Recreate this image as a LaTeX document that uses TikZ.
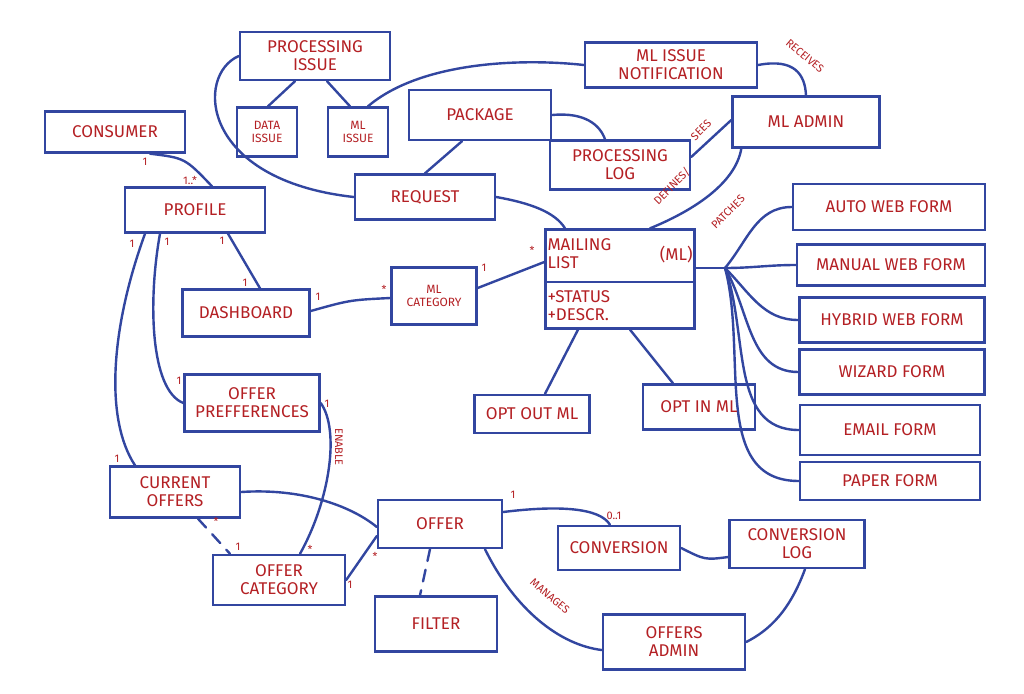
\documentclass[tikz,border=0pt]{standalone}
\usepackage{fontspec}
\setmainfont{Fira Sans}
\usetikzlibrary{shapes.multipart}
\definecolor{inkblue}{RGB}{50,70,160}
\definecolor{inkred}{RGB}{180,32,36}
\begin{document}
\begin{tikzpicture}[x=1pt,y=-1pt,inkblue,line width=2.4pt,line cap=round]
  \def\fs{\fontsize{17}{18}\selectfont}
  \def\fm{\fontsize{12}{13}\selectfont}
  \def\fl{\fontsize{11}{12}\selectfont}

\tikzstyle{entity}=[draw,rectangle,text=inkred,font=\fs,align=center,inner sep=2pt]
\tikzstyle{mult}=[text=inkred,font=\fl,inner sep=1pt]
\fill[white] (0,0) rectangle (1024,693);
\useasboundingbox (0,0) rectangle (1024,693);

\node[entity][minimum width=150pt,minimum height=48pt] (PI) at (315,56) {PROCESSING\\ISSUE};
\node[entity][minimum width=60pt,minimum height=49pt,font=\fm] (DI) at (267,132) {DATA\\ISSUE};
\draw ([xshift=-20pt]PI.south) -- ([xshift=1pt]DI.north);
\node[entity][minimum width=60pt,minimum height=49pt,font=\fm] (MI) at (358,132) {ML\\ISSUE};
\draw ([xshift=12pt]PI.south) -- ([xshift=-8pt]MI.north);
\node[entity][minimum width=140pt,minimum height=41pt] (CO) at (115,132) {CONSUMER};
\node[entity][minimum width=140pt,minimum height=45pt] (PR) at (195,210) {PROFILE};
\draw ([xshift=35pt]CO.south) .. controls (185,158) .. ([xshift=17pt]PR.north);
\node[mult] at (145,162) {1};
\node[mult] at (190,180) {1..*};
\node[entity][minimum width=142pt,minimum height=50pt] (PK) at (480,115) {PACKAGE};
\node[entity][minimum width=140pt,minimum height=45pt] (RQ) at (425,197) {REQUEST};
\draw ([xshift=-18pt]PK.south) -- (RQ.north);
\draw (PI.west) .. controls (195,75) and (200,180) .. (RQ.west);
\node[entity][minimum width=172pt,minimum height=45pt] (MN) at (671,65) {ML ISSUE\\NOTIFICATION};
\draw ([xshift=10pt]MI.north) .. controls (420,62) and (520,58) .. (MN.west);
\node[entity][minimum width=147pt,minimum height=51pt] (MA) at (806,122) {ML ADMIN};
\draw (MN.east) .. controls (795,58) and (805,75) .. (MA.north);
\node[mult,rotate=-40] at (805,56) {RECEIVES};
\node[entity][minimum width=140pt,minimum height=49pt] (PL) at (620,165) {PROCESSING\\LOG};
\draw (PK.east) .. controls (585,112) and (600,125) .. ([xshift=-15pt]PL.north);
\draw ([yshift=8pt]PL.east) -- ([yshift=2pt]MA.west);
\node[mult,rotate=45] at (701,130) {SEES};

\node[entity,rectangle split,rectangle split parts=2,text width=145pt,align=left,inner ysep=7pt] (ML) at (620,279)
  {\begin{tabular}{@{}l@{}}MAILING\\LIST\end{tabular}\hfill(ML)\nodepart{two}+STATUS\\+DESCR.};
\draw ([xshift=10pt]MA.south west) .. controls (735,185) and (690,212) .. ([xshift=30pt]ML.north);
\node[mult,rotate=45] at (672,186) {DEFINES/};
\node[mult,rotate=45] at (728,212) {PATCHES};
\draw (RQ.east) .. controls (530,203) and (555,212) .. ([xshift=-55pt]ML.north);

\node[entity][minimum width=192pt,minimum height=46pt] (AW) at (889,207) {AUTO WEB FORM};
\node[entity][minimum width=188pt,minimum height=41pt] (MW) at (891,265) {MANUAL WEB FORM};
\node[entity][minimum width=185pt,minimum height=45pt] (HW) at (892,320) {HYBRID WEB FORM};
\node[entity][minimum width=185pt,minimum height=45pt] (WF) at (892,372) {WIZARD FORM};
\node[entity][minimum width=180pt,minimum height=50pt] (EF) at (890,430) {EMAIL FORM};
\node[entity][minimum width=180pt,minimum height=38pt] (PF) at (890,481) {PAPER FORM};
\coordinate (J) at (725,268);
\draw ([yshift=11pt]ML.east) -- (J);
\foreach \n/\o in {AW/50,MW/0,HW/-45,WF/-60,EF/-70,PF/-75}
  \draw (J) to[out=\o,in=180] (\n.west);

\node[entity][minimum width=127pt,minimum height=47pt] (DB) at (246,313) {DASHBOARD};
\draw ([xshift=33pt]PR.south) -- ([xshift=14pt]DB.north);
\node[mult] at (222,241) {1};
\node[mult] at (245,283) {1};
\node[entity][minimum width=85pt,minimum height=57pt,font=\fm] (MC) at (434,296) {ML\\CATEGORY};
\draw ([yshift=2pt]DB.east) .. controls (350,300) .. ([yshift=-2pt]MC.west);
\node[mult] at (318,297) {1};
\node[mult] at (384,289) {*};
\draw ([yshift=8pt]MC.east) -- ([yshift=17pt]ML.west);
\node[mult] at (484,268) {1};
\node[mult] at (532,250) {*};
\node[entity][minimum width=115pt,minimum height=38pt] (OO) at (532,414) {OPT OUT ML};
\node[entity][minimum width=112pt,minimum height=45pt] (OI) at (699,407) {OPT IN ML};
\draw ([xshift=-42pt]ML.south) -- ([xshift=13pt]OO.north);
\draw ([xshift=10pt]ML.south) -- ([xshift=-26pt]OI.north);

\node[entity][minimum width=135pt,minimum height=57pt] (OP) at (252,403) {OFFER\\PREFFERENCES};
\draw ([xshift=-35pt]PR.south) .. controls (148,300) and (150,390) .. (OP.west);
\node[mult] at (167,242) {1};
\node[mult] at (179,381) {1};
\node[entity][minimum width=130pt,minimum height=51pt] (CU) at (175,492) {CURRENT\\OFFERS};
\draw ([xshift=-50pt]PR.south) .. controls (110,330) and (105,420) .. ([xshift=-40pt]CU.north);
\node[mult] at (132,244) {1};
\node[mult] at (117,459) {1};
\node[entity][minimum width=132pt,minimum height=50pt] (OC) at (279,580) {OFFER\\CATEGORY};
\draw (OP.east) .. controls (340,430) and (330,500) .. ([xshift=21pt]OC.north);
\node[mult,rotate=-90] at (339,447) {ENABLE};
\node[mult] at (327,404) {1};
\node[mult] at (310,549) {*};
\draw[dash pattern=on 12pt off 9pt] ([xshift=23pt]CU.south) -- ([xshift=-49pt]OC.north);
\node[mult] at (216,521) {*};
\node[mult] at (238,547) {1};
\node[entity][minimum width=124pt,minimum height=48pt] (OF) at (440,524) {OFFER};
\draw (CU.east) .. controls (300,488) and (350,505) .. ([yshift=-3pt]OF.west);
\draw (OC.east) -- ([yshift=-12pt]OF.west);
\node[mult] at (350,585) {1};
\node[mult] at (375,556) {*};
\node[entity][minimum width=122pt,minimum height=55pt] (FI) at (436,624) {FILTER};
\draw[dash pattern=on 12pt off 9pt] ([xshift=-10pt]OF.south) -- ([xshift=-16pt]FI.north);

\node[entity][minimum width=122pt,minimum height=44pt] (CV) at (619,548) {CONVERSION};
\draw ([yshift=12pt]OF.east) .. controls (560,505) and (600,508) .. ([xshift=-9pt]CV.north);
\node[mult] at (513,495) {1};
\node[mult] at (614,516) {0..1};
\node[entity][minimum width=135pt,minimum height=48pt] (CL) at (797,544) {CONVERSION\\LOG};
\draw (CV.east) .. controls (705,560) .. ([yshift=-13pt]CL.west);
\node[entity][minimum width=142pt,minimum height=55pt] (OA) at (674,642) {OFFERS\\ADMIN};
\draw ([xshift=8pt]CL.south) .. controls (790,610) and (770,630) .. (OA.east);
\draw ([xshift=45pt]OF.south) .. controls (515,610) and (560,645) .. ([yshift=-8pt]OA.west);
\node[mult,rotate=-40] at (550,596) {MANAGES};
\end{tikzpicture}
\end{document}
